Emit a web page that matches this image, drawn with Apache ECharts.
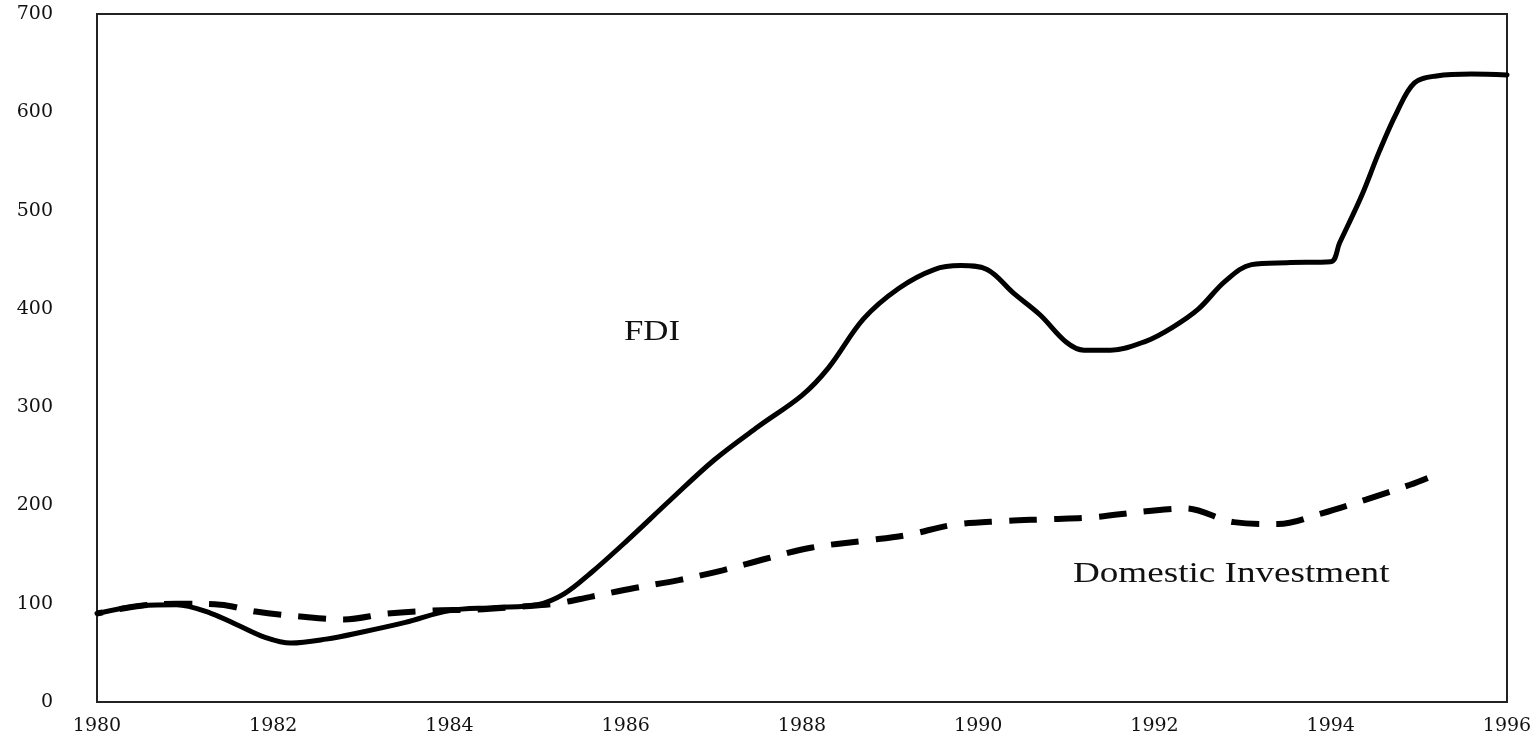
<!DOCTYPE html>
<html>
<head>
<meta charset="utf-8">
<script src="https://cdn.jsdelivr.net/npm/echarts@6/dist/echarts.min.js"></script>
<style>
html,body{margin:0;padding:0;background:#fff;}
#chart{width:1536px;height:737px;}
</style>
</head>
<body>
<div id="chart"></div>
<script>
// Tick labels
const xTicks = [1980, 1982, 1984, 1986, 1988, 1990, 1992, 1994, 1996];
const yTicks = [0, 100, 200, 300, 400, 500, 600, 700];

// FDI (solid line) – readings
const fdiYears = [1980.0,1980.5,1980.9,1981.3,1981.6,1981.9,1982.2,1982.6,1983.0,1983.5,1984.0,1984.5,1985.0,1985.3,1985.6,1986.0,1986.5,1987.0,1987.5,1988.0,1988.3,1988.7,1989.1,1989.5,1989.8,1990.1,1990.4,1990.7,1991.0,1991.2,1991.5,1991.9,1992.2,1992.5,1992.8,1993.1,1993.5,1994.0,1994.1,1994.35,1994.55,1994.75,1994.95,1995.2,1995.6,1996.0];
const fdiValues = [90,98,99,90,78,66,60,64,71,81,93,96,99,110,131,163,205,246,280,312,340,390,421,440,444,440,416,394,366,358,358,367,381,400,428,445,447,448,467,515,560,600,630,637,639,638];

// Domestic Investment (dashed line)
const domYears = [1980.0,1980.5,1980.9,1981.4,1981.8,1982.3,1982.8,1983.3,1983.8,1984.3,1984.8,1985.2,1985.6,1986.1,1986.6,1987.1,1987.6,1988.1,1988.7,1989.2,1989.7,1990.25,1990.8,1991.3,1991.9,1992.35,1992.9,1993.4,1993.9,1994.4,1994.9,1995.1];
const domValues = [90,98,100,99,92,87,84,90,93,94,97,100,107,116,124,134,146,157,164,170,180,184,186,188,194,197,183,181,192,206,221,228];

const seriesNames = ['FDI', 'Domestic Investment'];

const pair = (xs, ys) => xs.map((x, i) => [x, ys[i]]);

const chart = echarts.init(document.getElementById('chart'));
chart.setOption({
  backgroundColor: '#ffffff',
  animation: false,
  grid: {
    left: 97, right: 29, top: 14, bottom: 35,
    show: true, borderColor: '#222', borderWidth: 2, backgroundColor: 'transparent'
  },
  xAxis: {
    type: 'value', min: xTicks[0], max: xTicks[xTicks.length - 1], interval: 2,
    axisLine: { show: false }, axisTick: { show: false }, splitLine: { show: false },
    axisLabel: { color: '#111', fontFamily: 'DejaVu Serif', fontSize: 19, margin: 15,
      formatter: v => String(v) }
  },
  yAxis: {
    type: 'value', min: yTicks[0], max: yTicks[yTicks.length - 1], interval: 100,
    axisLine: { show: false }, axisTick: { show: false }, splitLine: { show: false },
    axisLabel: { color: '#111', fontFamily: 'DejaVu Serif', fontSize: 19, margin: 44 }
  },
  series: [
    {
      name: seriesNames[0], type: 'line', data: pair(fdiYears, fdiValues),
      smooth: 0.35, showSymbol: false,
      lineStyle: { color: '#000', width: 5, type: 'solid', cap: 'round', join: 'round' }
    },
    {
      name: seriesNames[1], type: 'line', data: pair(domYears, domValues),
      smooth: 0.35, showSymbol: false,
      lineStyle: { color: '#000', width: 6, type: [28, 17], dashOffset: 22, cap: 'butt' }
    }
  ],
  graphic: [
    { type: 'text', left: 624, top: 318, scaleX: 1.2,
      style: { text: 'FDI', fill: '#111', font: '29px "Liberation Serif"' } },
    { type: 'text', left: 1073, top: 560, scaleX: 1.28,
      style: { text: 'Domestic Investment', fill: '#111', font: '29px "Liberation Serif"' } }
  ]
});
</script>
</body>
</html>
